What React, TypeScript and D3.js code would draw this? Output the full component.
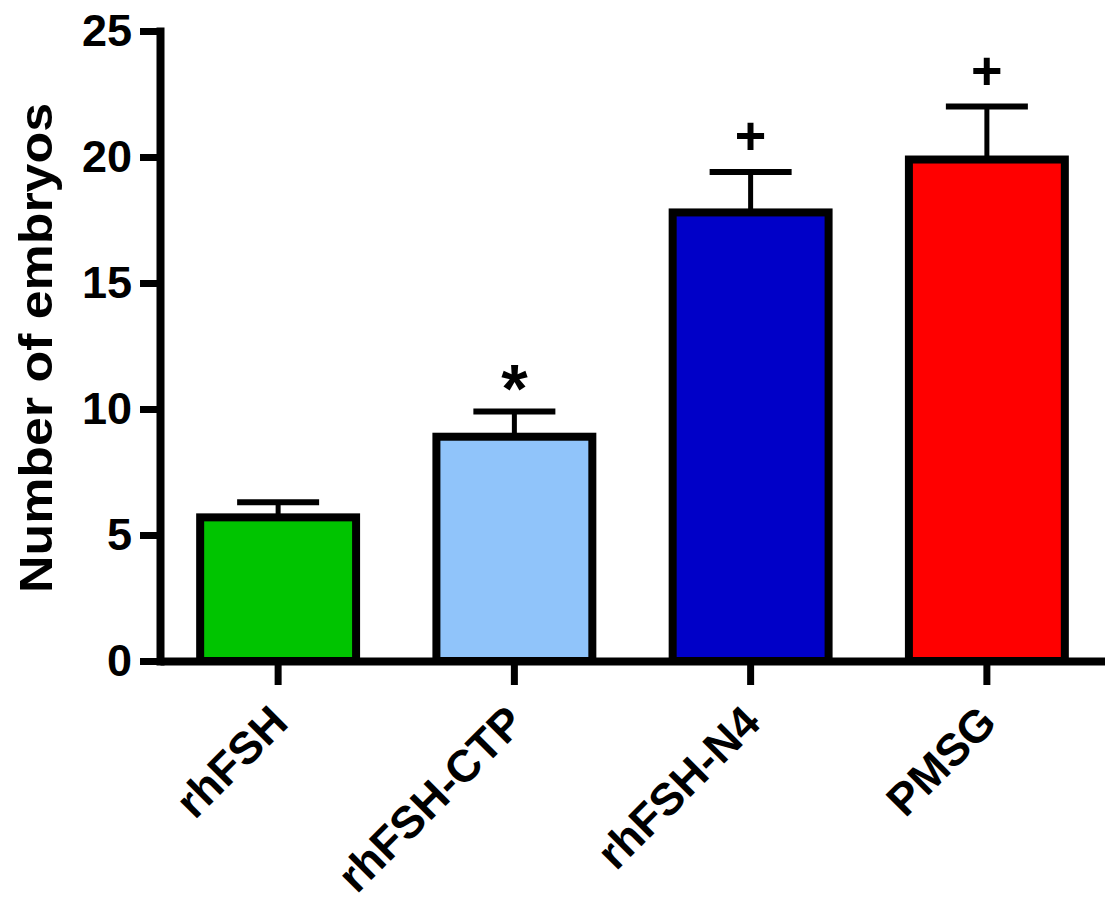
import React, { useEffect, useRef } from 'react';
import * as d3 from 'd3';

// values
const groups = ['rhFSH', 'rhFSH-CTP', 'rhFSH-N4', 'PMSG'];
const means = [5.7, 8.9, 17.8, 19.9];
const errors = [0.6, 1.0, 1.6, 2.1];
const marks = ['', '*', '+', '+'];
const colors = ['#00c400', '#90c4fa', '#0000c8', '#ff0000'];
const yTicks = [0, 5, 10, 15, 20, 25];

const FONT = 'Liberation Sans, Arial, Helvetica, sans-serif';

export default function App() {
  const ref = useRef<SVGSVGElement | null>(null);

  useEffect(() => {
    drawChart();
  }, []);

  const drawChart = () => {
    const svg = d3.select(ref.current);
    svg.selectAll('*').remove();

    const x = d3.scaleBand<string>()
      .domain(groups)
      .range([160, 1105])
      .paddingInner(0.34)
      .paddingOuter(0.17);

    const y = d3.scaleLinear()
      .domain([0, 25])
      .range([661, 31]);

    const data = groups.map((g, i) => ({ g, v: means[i], e: errors[i], m: marks[i], c: colors[i] }));

    // error bars (upper only)
    const err = svg.append('g');
    err.selectAll('line.stem')
      .data(data)
      .join('line')
      .attr('x1', d => x(d.g)! + x.bandwidth() / 2)
      .attr('x2', d => x(d.g)! + x.bandwidth() / 2)
      .attr('y1', d => y(d.v))
      .attr('y2', d => y(d.v + d.e))
      .attr('stroke', '#000')
      .attr('stroke-width', 5);
    err.selectAll('line.cap')
      .data(data)
      .join('line')
      .attr('x1', d => x(d.g)! + x.bandwidth() / 2 - 41)
      .attr('x2', d => x(d.g)! + x.bandwidth() / 2 + 41)
      .attr('y1', d => y(d.v + d.e))
      .attr('y2', d => y(d.v + d.e))
      .attr('stroke', '#000')
      .attr('stroke-width', 6);

    // bars
    svg.append('g')
      .selectAll('rect')
      .data(data)
      .join('rect')
      .attr('x', d => x(d.g)!)
      .attr('width', x.bandwidth())
      .attr('y', d => y(d.v))
      .attr('height', d => y(0) - y(d.v))
      .attr('fill', d => d.c)
      .attr('stroke', '#000')
      .attr('stroke-width', 8);

    // significance marks
    svg.append('g')
      .selectAll('text')
      .data(data.filter(d => d.m))
      .join('text')
      .attr('x', d => x(d.g)! + x.bandwidth() / 2)
      .attr('y', d => y(d.v + d.e) - (d.m === '*' ? 0 : 18))
      .attr('text-anchor', 'middle')
      .attr('font-family', FONT)
      .attr('font-weight', 'bold')
      .attr('font-size', d => (d.m === '*' ? 68 : 54))
      .text(d => d.m);

    // y axis
    const ya = svg.append('g')
      .attr('transform', 'translate(160,0)')
      .call(d3.axisLeft(y).tickValues(yTicks).tickSize(20).tickSizeOuter(0).tickPadding(8));
    ya.select('.domain').attr('stroke-width', 8).attr('stroke-linecap', 'square');
    ya.selectAll('.tick line').attr('stroke-width', 7);
    ya.selectAll('.tick text')
      .attr('font-family', FONT)
      .attr('font-weight', 'bold')
      .attr('font-size', 45)
      .attr('fill', '#000');

    // x axis
    const xa = svg.append('g')
      .attr('transform', 'translate(0,661)')
      .call(d3.axisBottom(x).tickSize(24).tickSizeOuter(0).tickFormat(() => ''));
    xa.select('.domain').attr('stroke-width', 8);
    xa.selectAll('.tick line').attr('stroke-width', 7);

    // rotated category labels
    svg.append('g')
      .selectAll('text')
      .data(groups)
      .join('text')
      .attr('transform', g => `translate(${x(g)! + x.bandwidth() / 2 + 12},${725}) rotate(-45)`)
      .attr('text-anchor', 'end')
      .attr('font-family', FONT)
      .attr('font-weight', 'bold')
      .attr('font-size', 45)
      .text(g => g);

    // y title
    svg.append('text')
      .attr('transform', 'translate(52,348) rotate(-90)')
      .attr('text-anchor', 'middle')
      .attr('font-family', FONT)
      .attr('font-weight', 'bold')
      .attr('font-size', 46)
      .attr('textLength', 490)
      .attr('lengthAdjust', 'spacingAndGlyphs')
      .text('Number of embryos');
  };

  return (
    <svg ref={ref} width={1105} height={908}
      style={{ position: 'absolute', left: 0, top: 0, background: '#fff' }} />
  );
}
